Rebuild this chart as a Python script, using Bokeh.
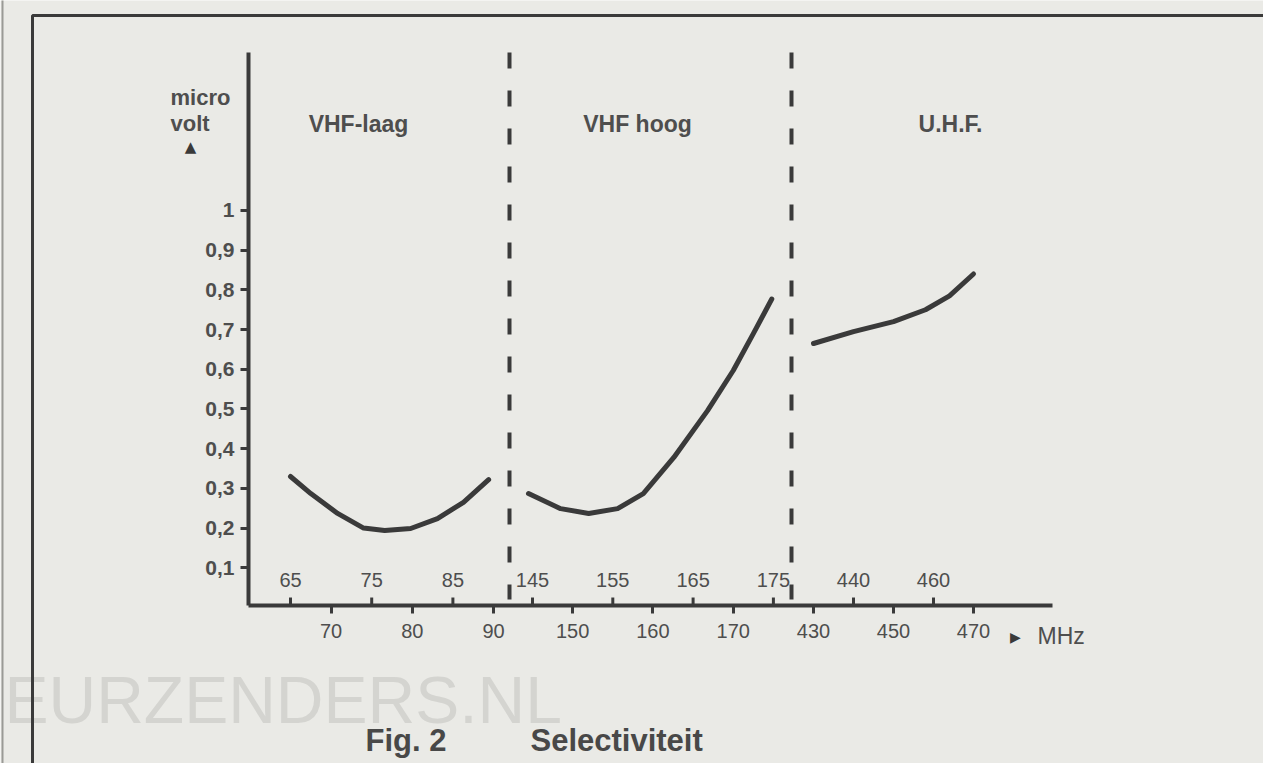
import math
from bokeh.plotting import figure
from bokeh.models import (Range1d, FixedTicker, CustomJSTickFormatter, LinearAxis,
                          ColumnDataSource)
from bokeh.core.properties import value
from bokeh.embed import file_html
from bokeh.resources import INLINE

# ---------------- data ----------------
vhf_laag_mhz = [65, 67.5, 70.8, 74, 76.6, 79.8, 83.1, 86.3, 89.4]
vhf_laag_uv = [0.33, 0.287, 0.237, 0.200, 0.194, 0.199, 0.224, 0.265, 0.322]

vhf_hoog_mhz = [144.5, 148.5, 152, 155.6, 158.8, 162.6, 166.8, 170, 172.5, 174.8]
vhf_hoog_uv = [0.287, 0.249, 0.237, 0.249, 0.287, 0.378, 0.496, 0.597, 0.69, 0.777]

uhf_mhz = [430, 440, 450, 458, 464, 470]
uhf_uv = [0.665, 0.695, 0.72, 0.75, 0.785, 0.84]

band_names = ["VHF-laag", "VHF hoog", "U.H.F."]
ticks_above = [65, 75, 85, 145, 155, 165, 175, 440, 460]
ticks_below = [70, 80, 90, 150, 160, 170, 430, 450, 470]
y_ticks = [0.1, 0.2, 0.3, 0.4, 0.5, 0.6, 0.7, 0.8, 0.9, 1.0]
y_caption = ["micro", "volt"]
x_unit = "MHz"
caption = ["Fig. 2", "Selectiviteit"]
watermark = "EURZENDERS.NL"

# ---------------- layout (broken frequency axis) ----------------
# each band: (lowest MHz of band, offset, axis units per MHz); 1 axis unit = 1 px
BANDS = [(0, 42 - 65 * 8.12, 8.12), (120, 284 - 145 * 8.03, 8.03), (300, 565 - 430 * 4.0, 4.0)]


def to_axis(f):
    pos = None
    for lo, off, k in BANDS:
        if f >= lo:
            pos = off + f * k
    return pos


Y0 = 0.005            # level of the frequency axis
Y_TOP = 1.398         # top of the voltage axis
X_END = 804           # end of the frequency axis
DIVIDERS = [261, 543]
BAND_LABEL_X = [110, 389, 702]
BAND_LABEL_Y = 1.218

INK = "#3a3a3a"
TXT = "#4e4e4e"
BG = "#eaeae6"
FONT = "Liberation Sans"

p = figure(width=1263, height=763, min_border=0,
           x_range=Range1d(-248, 1015), y_range=Range1d(-0.392947, 1.528967),
           x_axis_type=None, y_axis_type=None,
           output_backend="svg", toolbar_location=None)
p.background_fill_color = BG
p.border_fill_color = BG
p.outline_line_color = None
p.grid.visible = False

# frequency axis (labels below)
below_pos = [to_axis(f) for f in ticks_below]
xa = LinearAxis(fixed_location=Y0, bounds=(0, X_END))
xa.ticker = FixedTicker(ticks=below_pos)
xa.formatter = CustomJSTickFormatter(args=dict(pos=below_pos, lab=[str(t) for t in ticks_below]), code="""
    for (let i = 0; i < pos.length; i++) { if (Math.abs(pos[i] - tick) < 1e-6) return lab[i]; }
    return "";
""")
xa.axis_line_width = 4
xa.axis_line_color = INK
xa.major_tick_line_width = 3
xa.major_tick_line_color = INK
xa.major_tick_out = 8
xa.major_tick_in = 0
xa.minor_tick_line_color = None
xa.major_label_standoff = 10
xa.major_label_text_font = FONT
xa.major_label_text_font_size = "20px"
xa.major_label_text_color = TXT
p.add_layout(xa, "below")

# voltage axis
ya = LinearAxis(fixed_location=0, bounds=(Y0, Y_TOP))
ya.ticker = FixedTicker(ticks=y_ticks)
ya.formatter = CustomJSTickFormatter(code="""
    return String(Math.round(tick * 10) / 10).replace('.', ',');
""")
ya.axis_line_width = 4
ya.axis_line_color = INK
ya.major_tick_line_width = 3
ya.major_tick_line_color = INK
ya.major_tick_out = 8
ya.major_tick_in = 0
ya.minor_tick_line_color = None
ya.major_label_standoff = 6
ya.major_label_text_font = FONT
ya.major_label_text_font_size = "21px"
ya.major_label_text_font_style = "bold"
ya.major_label_text_color = TXT
p.add_layout(ya, "left")

# ticks + labels above the frequency axis
above_pos = [to_axis(f) for f in ticks_above]
src_above = ColumnDataSource(dict(x=above_pos, y=[Y0] * len(above_pos),
                                  t=[str(f) for f in ticks_above]))
p.ray(x="x", y="y", length=8, length_units="screen", angle=math.pi / 2,
      line_width=3, line_color=INK, source=src_above)
p.text(x="x", y="y", text="t", source=src_above, text_align="center",
       text_baseline="bottom", y_offset=-19, text_font=value(FONT),
       text_font_size="20px", text_color=TXT)

# band dividers (dashed, drawn from the top down)
p.segment(x0=DIVIDERS, y0=[Y_TOP] * 2, x1=DIVIDERS, y1=[0.02] * 2,
          line_color=INK, line_width=4, line_dash="16 22")

# band names
p.text(x=BAND_LABEL_X, y=[BAND_LABEL_Y] * 3, text=band_names,
       text_align="center", text_baseline="middle", text_font=value(FONT),
       text_font_size="23px", text_font_style="bold", text_color=TXT)

# curves
for fs, vs in [(vhf_laag_mhz, vhf_laag_uv), (vhf_hoog_mhz, vhf_hoog_uv), (uhf_mhz, uhf_uv)]:
    p.line([to_axis(f) for f in fs], vs, line_width=5, line_color=INK,
           line_cap="round", line_join="round")

# voltage caption with arrow
p.text(x=[-78, -78], y=[1.285, 1.220], text=y_caption, text_font=value(FONT),
       text_font_size="22px", text_font_style="bold", text_color=TXT,
       text_baseline="middle", text_align="left")
p.text(x=[-58], y=[1.161], text=["▲"], text_font=value("DejaVu Sans"),
       text_font_size="15px", text_color=INK, text_baseline="middle", text_align="center")

# frequency unit with arrow
p.text(x=[767], y=[-0.075], text=["▶"], text_font=value("DejaVu Sans"),
       text_font_size="14px", text_color=INK, text_baseline="middle", text_align="center")
p.text(x=[789], y=[-0.072], text=[x_unit], text_font=value(FONT), text_font_size="23px",
       text_color=TXT, text_baseline="middle", text_align="left")

# watermark and caption
p.text(x=[-244], y=[-0.234], text=[watermark], text_font=value(FONT), text_font_size="66px",
       text_color="#d4d4d0", text_baseline="middle", text_align="left")
p.text(x=[117, 282], y=[-0.335, -0.335], text=caption, text_font=value(FONT),
       text_font_size="31px", text_font_style="bold", text_color="#484848",
       text_baseline="middle", text_align="left")

# frame of the printed figure
p.line(x=[-216, -216, 1100], y=[-0.5, 1.491, 1.491], line_color=INK, line_width=3)
p.line(x=[-246, -246], y=[-0.5, 1.6], line_color="#9a9a96", line_width=2)

open("out.html", "w").write(file_html(p, INLINE))
